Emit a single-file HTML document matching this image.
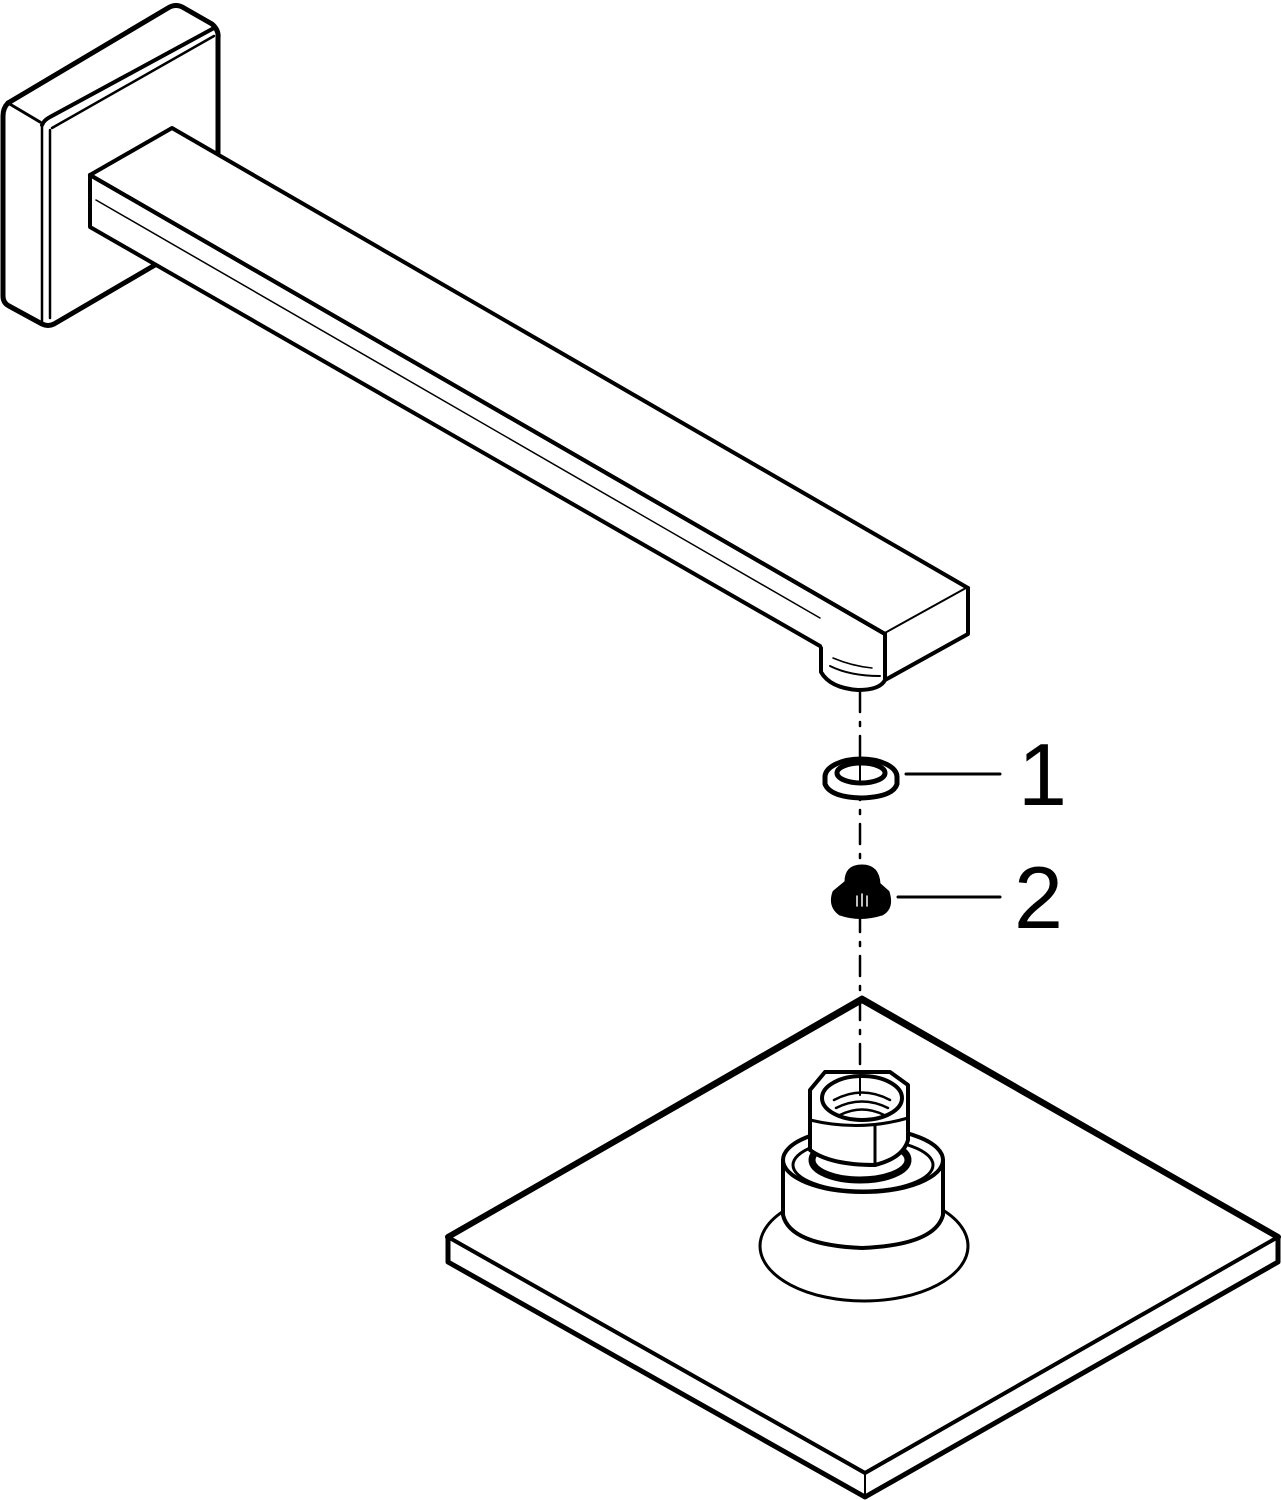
<!DOCTYPE html>
<html><head><meta charset="utf-8"><style>
html,body{margin:0;padding:0;background:#fff}
svg{display:block}
text{font-family:"Liberation Sans",sans-serif}
</style></head><body>
<svg width="1282" height="1500" viewBox="0 0 1282 1500" xmlns="http://www.w3.org/2000/svg" fill="none" stroke="#000" stroke-linejoin="round" stroke-linecap="round">
<!-- wall flange -->
<path d="M8,103 L168,8 Q176,3 184,8 L212,24 Q219,30 218,38 L218,155" stroke-width="5"/>
<path d="M8,103 Q3,108 3,116 L3,296 Q3,303 9,306 L42,324 Q48,327 54,324 L155,265" stroke-width="5"/>
<path d="M8,103 L40,122" stroke-width="3"/>
<path d="M42,125 Q44,120 50,117 L214,28" stroke-width="4"/>
<path d="M52,128 L214,36" stroke-width="2.5"/>
<path d="M42,125 L42,322" stroke-width="2.5"/>
<path d="M50,130 L50,318" stroke-width="2.5"/>
<!-- arm -->
<path d="M90,175 L172,128 L968,588 L885,634 Z" fill="#fff" stroke-width="4"/>
<path d="M90,175 L90,227 L820,646" stroke-width="4"/>
<path d="M885,634 L885,680 L968,634 L968,588" fill="#fff" stroke-width="4"/>
<path d="M96,200 L820,618" stroke-width="1.5"/>
<path d="M90,175 L885,634" stroke-width="4"/>
<!-- nozzle -->
<path d="M821,648 L821,672 Q830,688 858,690 Q880,690 885,680" stroke-width="4" fill="#fff"/>
<path d="M830,666 Q850,676 880,676" stroke-width="2"/>
<path d="M833,658 Q852,666 872,668" stroke-width="1.5"/>
<!-- dashed axis -->
<path d="M860,692 L860,1100" stroke-width="2.5" stroke-dasharray="20,10,4,10"/>
<!-- ring 1 -->
<ellipse cx="861" cy="777" rx="36" ry="18" stroke-width="5" fill="#fff"/>
<path d="M825,777 L825,784 Q830,797 861,798 Q893,797 897,784 L897,777" stroke-width="5" fill="#fff"/>
<ellipse cx="861" cy="773" rx="24" ry="10" stroke-width="5"/>
<path d="M860,763 L860,783" stroke-width="2"/>
<path d="M906,774 L1000,774" stroke-width="3"/>
<text x="1018" y="805" font-size="88" fill="#000" stroke="none">1</text>
<!-- part 2 -->
<path d="M846,882 Q846,866 862,866 Q878,866 879,884 L888,892 Q893,908 882,914 Q860,921 840,914 Q829,906 834,892 Z" fill="#000" stroke-width="3"/>
<path d="M857,896 L857,906 M862,894 L862,906 M867,896 L867,906" stroke="#fff" stroke-width="1.5"/>
<path d="M898,897 L1000,897" stroke-width="3"/>
<text x="1014" y="928" font-size="88" fill="#000" stroke="none">2</text>
<!-- plate -->
<path d="M862,998 L448,1237 L448,1262 L865,1497 L1278,1262 L1278,1237 Z" stroke-width="5" fill="#fff"/>
<path d="M448,1237 L865,1473 L1278,1237" stroke-width="4"/>
<path d="M865,1473 L865,1497" stroke-width="2"/>
<path d="M862,1000 L448,1237 M862,1000 L1278,1237" stroke-width="6"/>
<path d="M860,1000 L860,1090" stroke-width="2.5" stroke-dasharray="20,10,4,10"/>
<!-- base -->
<ellipse cx="864" cy="1246" rx="104" ry="55" stroke-width="3" fill="#fff"/>
<path d="M783,1160 L783,1215 Q790,1245 862,1248 Q935,1245 943,1215 L943,1160" stroke-width="4" fill="#fff"/>
<ellipse cx="863" cy="1160" rx="80" ry="32" stroke-width="4" fill="#fff"/>
<ellipse cx="863" cy="1165" rx="70" ry="26" stroke-width="3"/>
<ellipse cx="860" cy="1160" rx="48" ry="20" stroke-width="7" fill="#fff"/>
<!-- nut -->
<path d="M810,1090 L810,1150 Q830,1165 875,1165 Q903,1158 908,1140 L908,1085 L890,1072 L825,1072 Z" stroke-width="4" fill="#fff"/>
<ellipse cx="862" cy="1098" rx="40" ry="22" stroke-width="4"/>
<path d="M834,1100 Q862,1085 890,1100 M836,1108 Q862,1095 888,1108 M840,1115 Q862,1104 884,1115" stroke-width="2.5"/>
<path d="M810,1120 Q860,1132 908,1118 M875,1125 L875,1165" stroke-width="3"/>
<path d="M860,1075 L860,1095" stroke-width="2"/>
</svg>
</body></html>
